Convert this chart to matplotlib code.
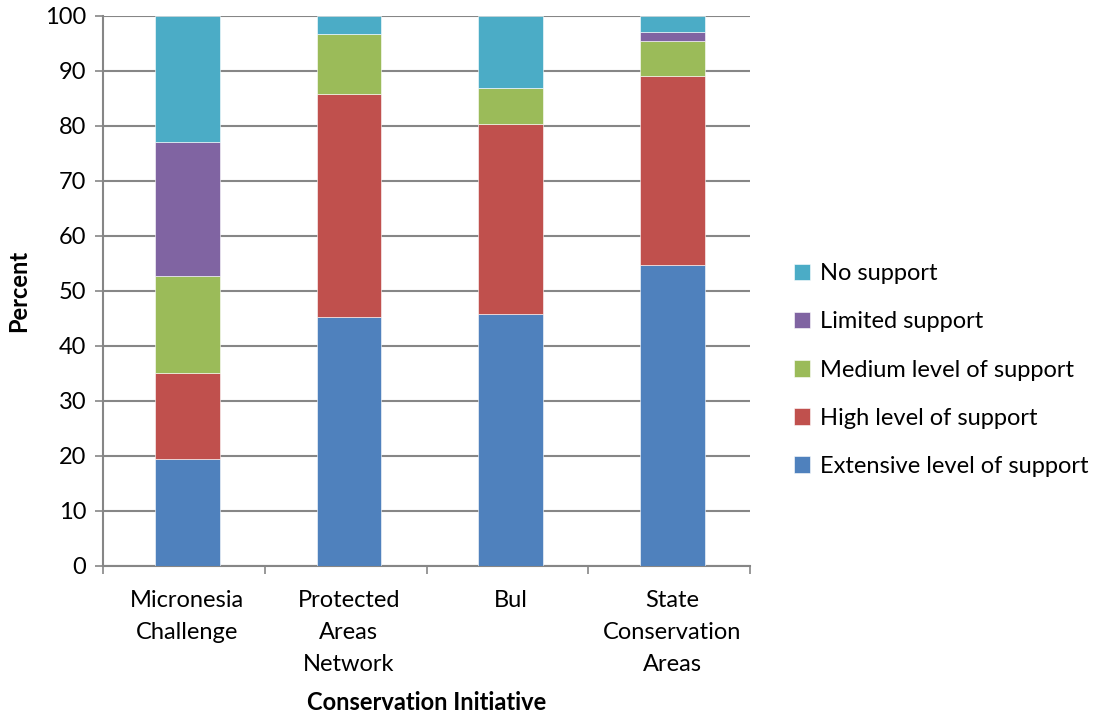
import numpy as np
import matplotlib
matplotlib.use("Agg")
import matplotlib.pyplot as plt

plt.rcParams['font.family'] = ['Lato', 'DejaVu Sans']

# survey results, percent of respondents per initiative
initiatives = ["Micronesia\nChallenge", "Protected\nAreas\nNetwork", "Bul", "State\nConservation\nAreas"]
extensive = [19.4, 45.3, 45.9, 54.7]
high = [15.7, 40.6, 34.4, 34.4]
medium = [17.6, 10.9, 6.6, 6.4]
limited = [24.4, 0.0, 0.0, 1.5]
no_support = [22.9, 3.2, 13.1, 3.0]

series = [
    ("Extensive level of support", extensive, "#4F81BD"),
    ("High level of support", high, "#C0504D"),
    ("Medium level of support", medium, "#9BBB59"),
    ("Limited support", limited, "#8064A2"),
    ("No support", no_support, "#4BACC6"),
]

fs = 17

fig = plt.figure(figsize=(10.94, 7.2), dpi=100)
ax = fig.add_axes([0.0942, 0.2139, 0.5914, 0.7639])

x = np.arange(len(initiatives))
bottom = np.zeros(len(initiatives))
for name, vals, col in series:
    vals = np.array(vals)
    ax.bar(x + 0.02, vals, 0.4, bottom=bottom, color=col, label=name, zorder=3,
           edgecolor="white", linewidth=0.4)
    bottom += vals

ax.set_xlim(-0.5, len(initiatives) - 0.5)
ax.set_ylim(0, 100)
ax.set_yticks(np.arange(0, 101, 10))
ax.yaxis.grid(True, color="#868686", linewidth=1.5, zorder=0)
ax.set_axisbelow(True)

# x ticks sit between categories, labels centred under the bars
ax.set_xticks(np.arange(-0.5, len(initiatives), 1.0))
ax.set_xticklabels([])
ax.set_xticks(x + 0.02, minor=True)
ax.set_xticklabels(initiatives, minor=True, fontsize=fs, linespacing=1.65)
ax.tick_params(axis="x", which="minor", length=0, pad=17)
ax.tick_params(axis="x", which="major", length=6, color="#868686", width=1.2)
ax.tick_params(axis="y", length=6, color="#868686", width=1.2, labelsize=fs, pad=6)

for s in ["top", "right"]:
    ax.spines[s].set_visible(False)
for s in ["left", "bottom"]:
    ax.spines[s].set_color("#868686")
    ax.spines[s].set_linewidth(1.5)

ax.set_ylabel("Percent", fontsize=fs, fontweight="bold", labelpad=11)
ax.set_xlabel("Conservation Initiative", fontsize=fs, fontweight="bold", labelpad=12)

handles, labels = ax.get_legend_handles_labels()
leg = fig.legend(handles[::-1], labels[::-1], loc="center left",
                 bbox_to_anchor=(0.717, 0.486), frameon=False, fontsize=fs,
                 handlelength=0.7, handleheight=0.7, handletextpad=0.4,
                 labelspacing=1.15, borderaxespad=0)

fig.savefig("out.png", dpi=100)
